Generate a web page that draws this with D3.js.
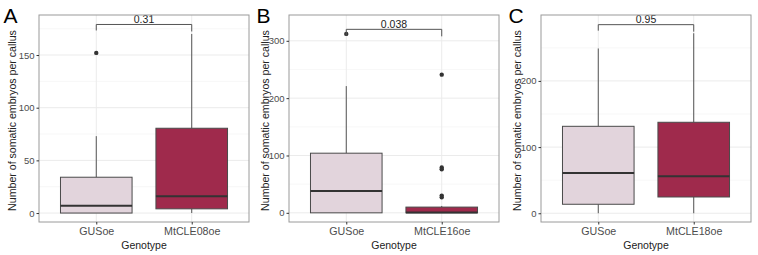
<!DOCTYPE html>
<html>
<head>
<meta charset="utf-8">
<script src="https://cdn.jsdelivr.net/npm/d3@7"></script>
<style>
  body { margin: 0; background: #fff; }
  svg { display: block; font-family: "Liberation Sans", Arial, sans-serif; }
</style>
</head>
<body>
<div id="chart"></div>
<script>
// panel letters, genotypes and p-values
const panelLabels = ['A', 'B', 'C'];
const genotypes = [
  ['GUSoe', 'MtCLE08oe'],
  ['GUSoe', 'MtCLE16oe'],
  ['GUSoe', 'MtCLE18oe'],
];
const pValues = ['0.31', '0.038', '0.95'];

// box stats per panel: [whiskerLow, q1, median, q3, whiskerHigh]
const statsA = [[0, 0, 7, 34, 73], [0, 4, 16, 80.5, 170]];
const statsB = [[0, 0, 38, 104, 221], [0, 0, 0.5, 10, 12]];
const statsC = [[0, 13.6, 61, 131.4, 249], [0, 24.6, 56, 137.5, 272]];
const outliersA = [[152], []];
const outliersB = [[312], [241, 79, 76, 30, 27]];
const outliersC = [[], []];

// y axis domains and ticks
const yDomains = [[-8.5, 188], [-16, 345], [-13.2, 299.6]];
const yTicks = [[0, 50, 100, 150], [0, 100, 200, 300], [0, 100, 200]];
const yMinor = [[25, 75, 125, 175], [50, 150, 250], [50, 150, 250]];
const bracketY = [179, 320, 285];

const fills = ['#e2d4dc', '#9f2a4c'];

const width = 758, height = 255;
const svg = d3.select('#chart').append('svg').attr('width', width).attr('height', height);

const panels = [
  { x0: 0, left: 39, stats: statsA, outliers: outliersA },
  { x0: 253, left: 289, stats: statsB, outliers: outliersB },
  { x0: 505, left: 541, stats: statsC, outliers: outliersC },
];
const plotTop = 15, plotBottom = 222, plotW = 210;

panels.forEach((p, pi) => {
  const g = svg.append('g');
  const right = p.left + plotW;
  const y = d3.scaleLinear().domain(yDomains[pi]).range([plotBottom, plotTop]);
  // ggplot discrete axis: 0.6 units of padding each side, boxes 0.75 wide
  const xc = d3.scalePoint().domain(genotypes[pi]).range([p.left, right]).padding(0.6);
  const boxW = xc.step() * 0.75;

  // grid
  g.selectAll('line.minor').data(yMinor[pi]).join('line')
    .attr('x1', p.left).attr('x2', right)
    .attr('y1', d => y(d)).attr('y2', d => y(d))
    .attr('stroke', '#f2f2f2').attr('stroke-width', 0.6);
  g.selectAll('line.major').data(yTicks[pi]).join('line')
    .attr('x1', p.left).attr('x2', right)
    .attr('y1', d => y(d)).attr('y2', d => y(d))
    .attr('stroke', '#ebebeb').attr('stroke-width', 1);
  g.selectAll('line.vmajor').data(genotypes[pi]).join('line')
    .attr('x1', d => xc(d)).attr('x2', d => xc(d))
    .attr('y1', plotTop).attr('y2', plotBottom)
    .attr('stroke', '#ebebeb').attr('stroke-width', 1);

  // boxes
  genotypes[pi].forEach((gt, i) => {
    const s = p.stats[i];
    const cx = xc(gt);
    g.append('line').attr('x1', cx).attr('x2', cx)
      .attr('y1', y(s[3])).attr('y2', y(s[4]))
      .attr('stroke', '#555').attr('stroke-width', 1);
    g.append('line').attr('x1', cx).attr('x2', cx)
      .attr('y1', y(s[0])).attr('y2', y(s[1]))
      .attr('stroke', '#555').attr('stroke-width', 1);
    g.append('rect')
      .attr('x', cx - boxW / 2).attr('width', boxW)
      .attr('y', y(s[3])).attr('height', Math.max(0, y(s[1]) - y(s[3])))
      .attr('fill', fills[i]).attr('stroke', '#4a4a4a').attr('stroke-width', 1);
    g.append('line').attr('x1', cx - boxW / 2).attr('x2', cx + boxW / 2)
      .attr('y1', y(s[2])).attr('y2', y(s[2]))
      .attr('stroke', '#333').attr('stroke-width', 2);
    g.selectAll(null).data(p.outliers[i]).join('circle')
      .attr('cx', cx).attr('cy', d => y(d)).attr('r', 2.2)
      .attr('fill', '#333');
  });

  // bracket
  const by = y(bracketY[pi]);
  const [g1, g2] = genotypes[pi];
  g.append('path')
    .attr('d', `M${xc(g1)},${by + 6}V${by}H${xc(g2)}V${by + 7}`)
    .attr('fill', 'none').attr('stroke', '#555').attr('stroke-width', 1);
  g.append('text')
    .attr('x', (xc(g1) + xc(g2)) / 2).attr('y', by - 1.5)
    .attr('text-anchor', 'middle').attr('font-size', 10.5).attr('fill', '#222')
    .text(pValues[pi]);

  // panel border
  g.append('rect').attr('x', p.left).attr('y', plotTop)
    .attr('width', plotW).attr('height', plotBottom - plotTop)
    .attr('fill', 'none').attr('stroke', '#9a9a9a').attr('stroke-width', 1);

  // y axis
  const yAxis = g.append('g').attr('transform', `translate(${p.left},0)`)
    .call(d3.axisLeft(y).tickValues(yTicks[pi]).tickSize(2.5).tickPadding(2));
  yAxis.select('.domain').remove();
  yAxis.selectAll('line').attr('stroke', '#333');
  yAxis.selectAll('text').attr('font-size', 9.5).attr('fill', '#4d4d4d')
    .attr('font-family', '"Liberation Sans", Arial, sans-serif');

  // x axis
  const xAxis = g.append('g').attr('transform', `translate(0,${plotBottom})`)
    .call(d3.axisBottom(xc).tickSize(2.5).tickPadding(3));
  xAxis.select('.domain').remove();
  xAxis.selectAll('line').attr('stroke', '#333');
  xAxis.selectAll('text').attr('font-size', 10.7).attr('fill', '#4d4d4d')
    .attr('font-family', '"Liberation Sans", Arial, sans-serif');

  // titles
  g.append('text')
    .attr('x', p.left + plotW / 2).attr('y', 249)
    .attr('text-anchor', 'middle').attr('font-size', 10.5).attr('fill', '#222')
    .text('Genotype');
  g.append('text')
    .attr('transform', `translate(${p.x0 + 16},${(plotTop + plotBottom) / 2 + 2}) rotate(-90)`)
    .attr('text-anchor', 'middle').attr('font-size', 10.6).attr('fill', '#222')
    .text('Number of somatic embryos per callus');
  g.append('text')
    .attr('x', p.x0 + 3.5).attr('y', 23)
    .attr('font-size', 21).attr('fill', '#000')
    .text(panelLabels[pi]);
});
</script>
</body>
</html>
